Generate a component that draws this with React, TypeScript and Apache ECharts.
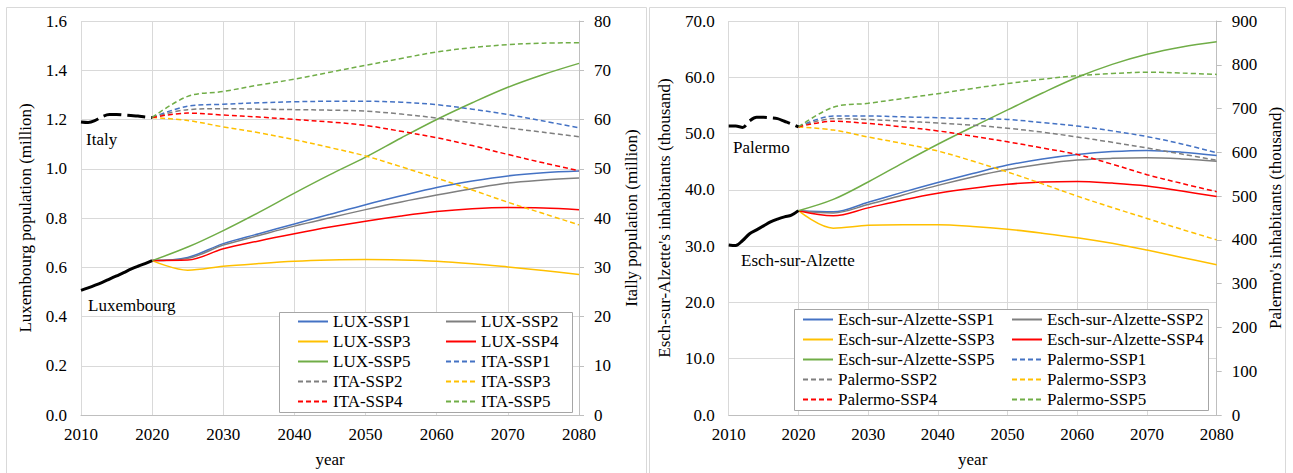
import React, { useEffect, useRef } from "react";
import * as echarts from "echarts";

const FONT = "'Liberation Serif', 'Times New Roman', serif";

// ---- years ----
const histYears = [2010, 2011, 2012, 2013, 2014, 2015, 2016, 2017, 2018, 2019, 2020];
const projYears = [2020, 2025, 2030, 2035, 2040, 2045, 2050, 2055, 2060, 2065, 2070, 2075, 2080];

// ---- left chart: Luxembourg (million, left axis) & Italy (million, right axis) ----
const luxHist = [0.506, 0.516, 0.527, 0.539, 0.552, 0.565, 0.578, 0.592, 0.604, 0.615, 0.627];
const itaHist = [59.5, 59.4, 59.8, 60.6, 61.0, 61.0, 60.9, 60.8, 60.7, 60.5, 60.4];

const luxSSP1 = [0.627, 0.64, 0.696, 0.736, 0.776, 0.815, 0.854, 0.89, 0.924, 0.95, 0.971, 0.984, 0.991];
const luxSSP2 = [0.627, 0.636, 0.69, 0.729, 0.767, 0.801, 0.834, 0.865, 0.893, 0.919, 0.942, 0.954, 0.962];
const luxSSP3 = [0.627, 0.588, 0.604, 0.615, 0.624, 0.629, 0.631, 0.629, 0.624, 0.614, 0.601, 0.587, 0.571];
const luxSSP4 = [0.627, 0.629, 0.675, 0.707, 0.736, 0.763, 0.787, 0.808, 0.826, 0.838, 0.843, 0.841, 0.834];
const luxSSP5 = [0.627, 0.682, 0.749, 0.823, 0.901, 0.976, 1.047, 1.125, 1.2, 1.268, 1.331, 1.383, 1.428];

const itaSSP1 = [60.4, 62.7, 63.1, 63.4, 63.6, 63.7, 63.7, 63.5, 63.0, 62.1, 61.0, 59.7, 58.3];
const itaSSP2 = [60.4, 62.0, 62.2, 62.1, 62.0, 61.9, 61.7, 61.1, 60.3, 59.3, 58.3, 57.4, 56.5];
const itaSSP3 = [60.4, 59.8, 58.5, 57.3, 55.9, 54.3, 52.6, 50.4, 48.1, 45.7, 43.2, 40.9, 38.6];
const itaSSP4 = [60.4, 61.3, 60.9, 60.5, 60.0, 59.5, 58.8, 57.6, 56.3, 54.7, 52.9, 51.2, 49.6];
const itaSSP5 = [60.4, 64.7, 65.7, 67.0, 68.2, 69.6, 71.0, 72.4, 73.7, 74.6, 75.2, 75.5, 75.6];

// ---- right chart: Esch-sur-Alzette (thousand, left axis) & Palermo (thousand, right axis) ----
const eschHist = [30.2, 30.1, 31.0, 32.2, 32.9, 33.6, 34.3, 34.8, 35.2, 35.5, 36.3];
const palHist = [660, 660, 657, 672, 680, 680, 679, 677, 671, 665, 658];

const eschSSP1 = [36.3, 36.1, 37.8, 39.6, 41.3, 42.9, 44.4, 45.5, 46.3, 46.8, 47.0, 46.7, 46.1];
const eschSSP2 = [36.3, 35.9, 37.4, 39.1, 40.8, 42.3, 43.6, 44.6, 45.3, 45.6, 45.7, 45.5, 45.1];
const eschSSP3 = [36.3, 33.2, 33.7, 33.8, 33.8, 33.5, 33.0, 32.3, 31.5, 30.5, 29.3, 28.0, 26.7];
const eschSSP4 = [36.3, 35.4, 36.8, 38.2, 39.4, 40.3, 41.0, 41.4, 41.5, 41.2, 40.7, 39.8, 38.8];
const eschSSP5 = [36.3, 38.3, 41.4, 44.8, 48.1, 51.2, 54.2, 57.2, 60.0, 62.3, 64.1, 65.4, 66.3];

const palSSP1 = [658, 683, 683, 681, 679, 677, 675, 668, 660, 649, 636, 619, 599];
const palSSP2 = [658, 677, 675, 671, 667, 662, 655, 646, 635, 623, 610, 596, 582];
const palSSP3 = [658, 651, 635, 620, 603, 580, 555, 528, 500, 474, 449, 424, 400];
const palSSP4 = [658, 671, 666, 658, 649, 637, 624, 610, 595, 573, 549, 529, 510];
const palSSP5 = [658, 703, 712, 723, 734, 746, 757, 767, 775, 780, 783, 781, 778];

// ---- legend layout (two columns each) ----
const leftLegendCol1 = ["LUX-SSP1", "LUX-SSP3", "LUX-SSP5", "ITA-SSP2", "ITA-SSP4"];
const leftLegendCol2 = ["LUX-SSP2", "LUX-SSP4", "ITA-SSP1", "ITA-SSP3", "ITA-SSP5"];
const rightLegendCol1 = [
  "Esch-sur-Alzette-SSP1",
  "Esch-sur-Alzette-SSP3",
  "Esch-sur-Alzette-SSP5",
  "Palermo-SSP2",
  "Palermo-SSP4",
];
const rightLegendCol2 = [
  "Esch-sur-Alzette-SSP2",
  "Esch-sur-Alzette-SSP4",
  "Palermo-SSP1",
  "Palermo-SSP3",
  "Palermo-SSP5",
];

const sspColors = ["#4472C4", "#7F7F7F", "#FFC000", "#FF0000", "#70AD47"];
const DASH = [5, 3];

function mkLine(
  name: string,
  xs: number[],
  ys: number[],
  color: string,
  dash: any,
  width: number,
  xi: number,
  yi: number,
  z: number
) {
  return {
    type: "line",
    name,
    xAxisIndex: xi,
    yAxisIndex: yi,
    data: xs.map((x, i) => [x, ys[i]]),
    smooth: 0.35,
    symbol: "none",
    showSymbol: false,
    lineStyle: { color, width, type: dash },
    itemStyle: { color },
    emphasis: { disabled: true },
    z,
  };
}

const labelStyle = { fontFamily: FONT, fontSize: 17, color: "#000" };

function xAxisFor(grid: number) {
  return {
    type: "value",
    gridIndex: grid,
    min: 2010,
    max: 2080,
    interval: 10,
    name: "year",
    nameLocation: "middle",
    nameGap: 36,
    nameTextStyle: { ...labelStyle },
    axisLine: { show: true, lineStyle: { color: "#BFBFBF" } },
    axisTick: { show: false },
    axisLabel: {
      fontFamily: FONT,
      fontSize: 17,
      color: "#000",
      margin: 11,
      formatter: (v: number) => String(v),
    },
    splitLine: { show: true, lineStyle: { color: "#D9D9D9" } },
  };
}

function yAxisLeft(grid: number, max: number, interval: number, name: string, gap: number) {
  return {
    type: "value",
    gridIndex: grid,
    position: "left",
    min: 0,
    max,
    interval,
    name,
    nameLocation: "middle",
    nameRotate: 90,
    nameGap: gap,
    nameTextStyle: { ...labelStyle },
    axisLine: { show: false },
    axisTick: { show: false },
    axisLabel: {
      fontFamily: FONT,
      fontSize: 17,
      color: "#000",
      margin: 14,
      formatter: (v: number) => v.toFixed(1),
    },
    splitLine: { show: true, lineStyle: { color: "#D9D9D9" } },
  };
}

function yAxisRight(grid: number, max: number, interval: number, name: string, gap: number) {
  return {
    type: "value",
    gridIndex: grid,
    position: "right",
    min: 0,
    max,
    interval,
    name,
    nameLocation: "middle",
    nameRotate: 90,
    nameGap: gap,
    nameTextStyle: { ...labelStyle },
    axisLine: { show: true, lineStyle: { color: "#BFBFBF" } },
    axisTick: { show: true, length: 5, lineStyle: { color: "#BFBFBF" } },
    axisLabel: {
      fontFamily: FONT,
      fontSize: 17,
      color: "#000",
      margin: 15,
      formatter: (v: number) => String(v),
    },
    splitLine: { show: false },
  };
}

function legendCol(data: string[], left: number, top: number) {
  return {
    data,
    left,
    top,
    orient: "vertical",
    itemWidth: 30,
    itemHeight: 14,
    itemGap: 3,
    padding: 0,
    selectedMode: false,
    itemStyle: { opacity: 0 },
    textStyle: { fontFamily: FONT, fontSize: 17, color: "#000", lineHeight: 17 },
    z: 20,
  };
}

function textEl(text: string, x: number, y: number) {
  return {
    type: "text",
    z: 30,
    x,
    y,
    style: {
      text,
      fontFamily: FONT,
      fontSize: 17,
      fill: "#000",
      verticalAlign: "middle",
      align: "left",
    },
  };
}

export default function App() {
  const ref = useRef<HTMLDivElement>(null);

  useEffect(() => {
    if (!ref.current) return;
    const chart = echarts.init(ref.current, undefined, { renderer: "svg" });

    const luxSets = [luxSSP1, luxSSP2, luxSSP3, luxSSP4, luxSSP5];
    const itaSets = [itaSSP1, itaSSP2, itaSSP3, itaSSP4, itaSSP5];
    const eschSets = [eschSSP1, eschSSP2, eschSSP3, eschSSP4, eschSSP5];
    const palSets = [palSSP1, palSSP2, palSSP3, palSSP4, palSSP5];

    const series: any[] = [];
    luxSets.forEach((d, i) =>
      series.push(mkLine(`LUX-SSP${i + 1}`, projYears, d, sspColors[i], "solid", 1.5, 0, 0, 3))
    );
    itaSets.forEach((d, i) =>
      series.push(mkLine(`ITA-SSP${i + 1}`, projYears, d, sspColors[i], DASH, 1.5, 0, 1, 3))
    );
    eschSets.forEach((d, i) =>
      series.push(
        mkLine(`Esch-sur-Alzette-SSP${i + 1}`, projYears, d, sspColors[i], "solid", 1.5, 1, 2, 3)
      )
    );
    palSets.forEach((d, i) =>
      series.push(mkLine(`Palermo-SSP${i + 1}`, projYears, d, sspColors[i], DASH, 1.5, 1, 3, 3))
    );
    series.push(mkLine("Luxembourg", histYears, luxHist, "#000", "solid", 3, 0, 0, 4));
    series.push(mkLine("Italy", histYears, itaHist, "#000", [18, 6], 3, 0, 1, 4));
    series.push(mkLine("Esch-sur-Alzette", histYears, eschHist, "#000", "solid", 3, 1, 2, 4));
    series.push(mkLine("Palermo", histYears, palHist, "#000", [18, 6], 3, 1, 3, 4));

    const option: any = {
      animation: false,
      backgroundColor: "#fff",
      textStyle: { fontFamily: FONT },
      grid: [
        { left: 81, right: 1293 - 579, top: 21, bottom: 473 - 417.7 },
        { left: 728.7, right: 1293 - 1216.7, top: 21, bottom: 473 - 417.7 },
      ],
      xAxis: [xAxisFor(0), xAxisFor(1)],
      yAxis: [
        yAxisLeft(0, 1.6, 0.2, "Luxembourg population (million)", 47),
        yAxisRight(0, 80, 10, "Itally population (million)", 44),
        yAxisLeft(1, 70, 10, "Esch-sur-Alzette's inhabitants (thousand)", 56),
        yAxisRight(1, 900, 100, "Palermo's inhabitants (thousand)", 50),
      ],
      legend: [
        legendCol(leftLegendCol1, 297, 313),
        legendCol(leftLegendCol2, 445, 313),
        legendCol(rightLegendCol1, 802, 311),
        legendCol(rightLegendCol2, 1011, 311),
      ],
      graphic: [
        {
          type: "rect",
          z: 0,
          shape: { x: 6.5, y: 7.5, width: 640, height: 480 },
          style: { fill: "none", stroke: "#D9D9D9", lineWidth: 1 },
          silent: true,
        },
        {
          type: "rect",
          z: 0,
          shape: { x: 649.5, y: 7.5, width: 636, height: 480 },
          style: { fill: "none", stroke: "#D9D9D9", lineWidth: 1 },
          silent: true,
        },
        {
          type: "rect",
          z: 10,
          shape: { x: 279.5, y: 312.5, width: 293, height: 100 },
          style: { fill: "#fff", stroke: "#A6A6A6", lineWidth: 1 },
          silent: true,
        },
        {
          type: "rect",
          z: 10,
          shape: { x: 794.5, y: 309.5, width: 414, height: 101 },
          style: { fill: "#fff", stroke: "#A6A6A6", lineWidth: 1 },
          silent: true,
        },
        textEl("Italy", 86, 139),
        textEl("Luxembourg", 88, 305),
        textEl("Palermo", 733, 147),
        textEl("Esch-sur-Alzette", 741, 260),
      ],
      series,
    };

    chart.setOption(option);
    return () => chart.dispose();
  }, []);

  return (
    <div
      ref={ref}
      style={{ position: "fixed", left: 0, top: 0, width: 1293, height: 473, background: "#fff" }}
    />
  );
}
